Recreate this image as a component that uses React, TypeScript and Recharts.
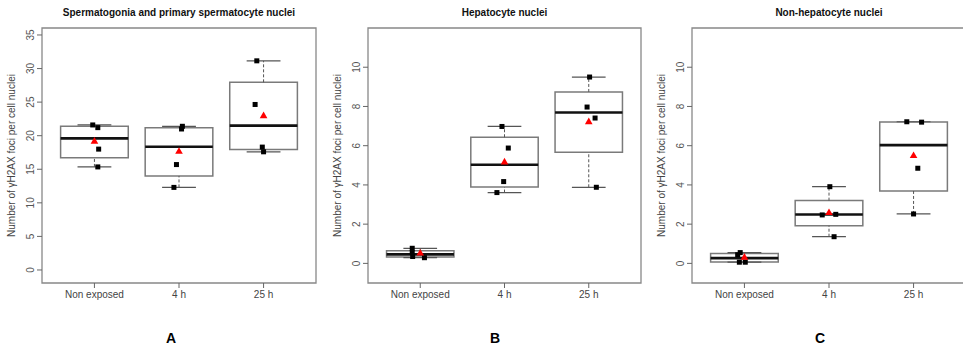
import React from 'react';
import { ComposedChart, XAxis, YAxis, Scatter, ReferenceArea, ReferenceLine } from 'recharts';

const categories = ['Non exposed', '4 h', '25 h'];
const yLabel = 'Number of γH2AX foci per cell nuclei';

// each group: [lower whisker, lower hinge, median, upper hinge, upper whisker]
const boxA = [
  [15.35, 16.7, 19.6, 21.4, 21.6],
  [12.3, 14.0, 18.35, 21.2, 21.4],
  [17.6, 17.95, 21.5, 27.95, 31.15],
];
const pointsA = [
  [21.6, 21.2, 18.0, 15.35],
  [21.4, 21.0, 15.7, 12.3],
  [31.15, 24.65, 18.3, 17.6],
];
const jitterA = [
  [-0.02, 0.04, 0.05, 0.04],
  [0.04, 0.03, -0.03, -0.06],
  [-0.08, -0.1, -0.015, 0],
];
const meansA = [19.2, 17.7, 23.0];
const ticksA = [0, 5, 10, 15, 20, 25, 30, 35];

const boxB = [
  [0.29, 0.33, 0.46, 0.64, 0.77],
  [3.61, 3.89, 5.03, 6.43, 6.98],
  [3.88, 5.66, 7.69, 8.74, 9.5],
];
const pointsB = [
  [0.77, 0.55, 0.35, 0.29],
  [6.98, 5.88, 4.17, 3.61],
  [9.5, 7.97, 7.41, 3.88],
];
const jitterB = [
  [-0.095, -0.095, -0.09, 0.05],
  [-0.03, 0.045, -0.01, -0.09],
  [0.01, -0.02, 0.075, 0.09],
];
const meansB = [0.53, 5.18, 7.23];

const boxC = [
  [0.06, 0.07, 0.27, 0.5, 0.55],
  [1.36, 1.92, 2.49, 3.2, 3.91],
  [2.52, 3.69, 6.03, 7.21, 7.22],
];
const pointsC = [
  [0.55, 0.44, 0.06, 0.06],
  [3.91, 2.47, 2.5, 1.36],
  [7.22, 7.2, 4.85, 2.52],
];
const jitterC = [
  [-0.05, -0.08, -0.06, 0.01],
  [0.01, -0.08, 0.08, 0.06],
  [-0.08, 0.095, 0.05, 0],
];
const meansC = [0.32, 2.6, 5.5];
const ticksBC = [0, 2, 4, 6, 8, 10];

const FONT = '"Liberation Sans", Arial, sans-serif';
const X_DOMAIN: [number, number] = [0.38, 3.62];
const HALF_BOX = 0.4;
const HALF_CAP = 0.2;

const YTick = ({ x, y, payload }: any) => (
  <text
    x={x}
    y={y}
    transform={`rotate(-90 ${x} ${y})`}
    textAnchor="middle"
    fontSize={10}
    fill="#555"
    fontFamily={FONT}
  >
    {payload.value}
  </text>
);

const XTick = ({ x, y, payload }: any) => (
  <text x={x} y={y} dy="0.71em" textAnchor="middle" fontSize={10} fill="#444" fontFamily={FONT}>
    {categories[payload.value - 1]}
  </text>
);

const YLab = ({ viewBox }: any) => {
  const x = viewBox.x + 3;
  const y = viewBox.y + viewBox.height / 2;
  return (
    <text
      x={x}
      y={y}
      transform={`rotate(-90 ${x} ${y})`}
      textAnchor="middle"
      fontSize={10}
      fill="#444"
      fontFamily={FONT}
    >
      {yLabel}
    </text>
  );
};

const Square = ({ cx, cy }: any) => <rect x={cx - 2.5} y={cy - 2.5} width={5} height={5} fill="#000" />;
const Tri = ({ cx, cy }: any) => (
  <polygon points={`${cx},${cy - 4} ${cx - 3.8},${cy + 2.6} ${cx + 3.8},${cy + 2.6}`} fill="#ff0000" />
);

interface PanelProps {
  title: string;
  letter: string;
  left: number;
  width: number;
  marginLeft: number;
  marginRight: number;
  letterX: number;
  box: number[][];
  points: number[][];
  jitter: number[][];
  means: number[];
  ticks: number[];
  yDomain: [number, number];
}

function Panel(p: PanelProps) {
  const pts = p.points.flatMap((vals, i) => vals.map((v, j) => ({ x: i + 1 + p.jitter[i][j], y: v })));
  const mns = p.means.map((m, i) => ({ x: i + 1, y: m }));
  const plotLeft = p.left + p.marginLeft + 30;
  const plotWidth = p.width - p.marginLeft - 30 - p.marginRight;
  return (
    <>
      <div
        style={{
          position: 'absolute',
          left: plotLeft,
          top: 6,
          width: plotWidth,
          textAlign: 'center',
          fontSize: 10,
          fontWeight: 'bold',
          lineHeight: '14px',
          color: '#111',
        }}
      >
        {p.title}
      </div>
      <div style={{ position: 'absolute', left: p.left, top: 0 }}>
        <ComposedChart
          width={p.width}
          height={348}
          margin={{ top: 28, right: p.marginRight, bottom: 35, left: p.marginLeft }}
        >
          <XAxis
            type="number"
            dataKey="x"
            domain={X_DOMAIN}
            allowDataOverflow
            ticks={[1, 2, 3]}
            interval={0}
            height={30}
            axisLine={false}
            tickSize={5}
            tickMargin={3}
            tickLine={{ stroke: '#666' }}
            tick={<XTick />}
          />
          <YAxis
            type="number"
            dataKey="y"
            domain={p.yDomain}
            allowDataOverflow
            ticks={p.ticks}
            interval={0}
            width={30}
            axisLine={false}
            tickSize={5}
            tickMargin={3}
            tickLine={{ stroke: '#666' }}
            tick={<YTick />}
            label={<YLab />}
          />
          <ReferenceArea
            x1={X_DOMAIN[0]}
            x2={X_DOMAIN[1]}
            y1={p.yDomain[0]}
            y2={p.yDomain[1]}
            fill="none"
            stroke="#888"
            strokeWidth={1.3}
          />
          {p.box.map((b, i) => (
            <ReferenceArea
              key={`box${i}`}
              x1={i + 1 - HALF_BOX}
              x2={i + 1 + HALF_BOX}
              y1={b[1]}
              y2={b[3]}
              fill="#fff"
              fillOpacity={1}
              stroke="#7a7a7a"
              strokeWidth={1.5}
            />
          ))}
          {p.box.map((b, i) => (
            <ReferenceLine
              key={`wl${i}`}
              segment={[{ x: i + 1, y: b[0] }, { x: i + 1, y: b[1] }]}
              stroke="#555"
              strokeDasharray="3 2"
            />
          ))}
          {p.box.map((b, i) => (
            <ReferenceLine
              key={`wh${i}`}
              segment={[{ x: i + 1, y: b[3] }, { x: i + 1, y: b[4] }]}
              stroke="#555"
              strokeDasharray="3 2"
            />
          ))}
          {p.box.map((b, i) => (
            <ReferenceLine
              key={`cl${i}`}
              segment={[{ x: i + 1 - HALF_CAP, y: b[0] }, { x: i + 1 + HALF_CAP, y: b[0] }]}
              stroke="#555"
              strokeWidth={1.2}
            />
          ))}
          {p.box.map((b, i) => (
            <ReferenceLine
              key={`ch${i}`}
              segment={[{ x: i + 1 - HALF_CAP, y: b[4] }, { x: i + 1 + HALF_CAP, y: b[4] }]}
              stroke="#555"
              strokeWidth={1.2}
            />
          ))}
          {p.box.map((b, i) => (
            <ReferenceLine
              key={`md${i}`}
              segment={[{ x: i + 1 - HALF_BOX, y: b[2] }, { x: i + 1 + HALF_BOX, y: b[2] }]}
              stroke="#111"
              strokeWidth={2.6}
            />
          ))}
          <Scatter data={pts} shape={<Square />} isAnimationActive={false} />
          <Scatter data={mns} shape={<Tri />} isAnimationActive={false} />
        </ComposedChart>
      </div>
      <div
        style={{
          position: 'absolute',
          left: p.letterX - 20,
          top: 329,
          width: 40,
          textAlign: 'center',
          fontSize: 14,
          fontWeight: 'bold',
          lineHeight: '18px',
          color: '#000',
        }}
      >
        {p.letter}
      </div>
    </>
  );
}

export default function App() {
  return (
    <div
      style={{
        position: 'fixed',
        left: 0,
        top: 0,
        width: 963,
        height: 348,
        overflow: 'hidden',
        background: '#fff',
        fontFamily: FONT,
      }}
    >
      <Panel
        title="Spermatogonia and primary spermatocyte nuclei"
        letter="A"
        left={0}
        width={320}
        marginLeft={12}
        marginRight={4}
        letterX={171}
        box={boxA}
        points={pointsA}
        jitter={jitterA}
        means={meansA}
        ticks={ticksA}
        yDomain={[-1.94, 36.04]}
      />
      <Panel
        title="Hepatocyte nuclei"
        letter="B"
        left={322}
        width={322}
        marginLeft={16}
        marginRight={3}
        letterX={495}
        box={boxB}
        points={pointsB}
        jitter={jitterB}
        means={meansB}
        ticks={ticksBC}
        yDomain={[-1.0, 12.0]}
      />
      <Panel
        title="Non-hepatocyte nuclei"
        letter="C"
        left={646}
        width={322}
        marginLeft={16}
        marginRight={2}
        letterX={820}
        box={boxC}
        points={pointsC}
        jitter={jitterC}
        means={meansC}
        ticks={ticksBC}
        yDomain={[-1.0, 12.0]}
      />
    </div>
  );
}
